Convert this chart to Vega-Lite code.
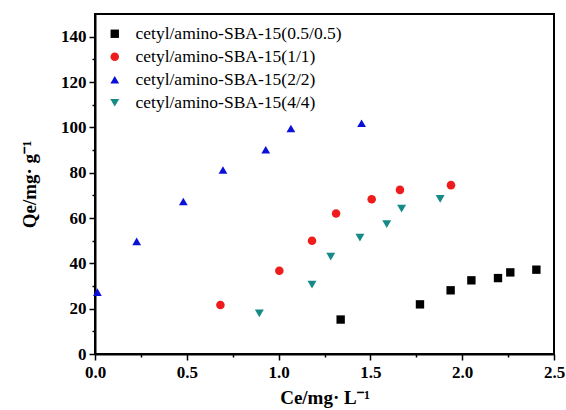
{
  "$schema": "https://vega.github.io/schema/vega-lite/v6.json",
  "width": 459,
  "height": 340,
  "autosize": "none",
  "padding": {"left": 95, "top": 14, "right": 12, "bottom": 56},
  "background": "white",
  "config": {
    "view": {"stroke": "black", "strokeWidth": 2},
    "font": "serif"
  },
  "data": {
    "values": [
      {"series": "cetyl/amino-SBA-15(0.5/0.5)", "ce": 1.338, "qe": 15.2},
      {"series": "cetyl/amino-SBA-15(0.5/0.5)", "ce": 1.77, "qe": 21.9},
      {"series": "cetyl/amino-SBA-15(0.5/0.5)", "ce": 1.937, "qe": 28.1},
      {"series": "cetyl/amino-SBA-15(0.5/0.5)", "ce": 2.05, "qe": 32.5},
      {"series": "cetyl/amino-SBA-15(0.5/0.5)", "ce": 2.195, "qe": 33.5},
      {"series": "cetyl/amino-SBA-15(0.5/0.5)", "ce": 2.262, "qe": 36.0},
      {"series": "cetyl/amino-SBA-15(0.5/0.5)", "ce": 2.404, "qe": 37.2},
      {"series": "cetyl/amino-SBA-15(1/1)", "ce": 0.683, "qe": 21.6},
      {"series": "cetyl/amino-SBA-15(1/1)", "ce": 1.004, "qe": 36.7},
      {"series": "cetyl/amino-SBA-15(1/1)", "ce": 1.182, "qe": 50.0},
      {"series": "cetyl/amino-SBA-15(1/1)", "ce": 1.313, "qe": 62.0},
      {"series": "cetyl/amino-SBA-15(1/1)", "ce": 1.507, "qe": 68.3},
      {"series": "cetyl/amino-SBA-15(1/1)", "ce": 1.661, "qe": 72.4},
      {"series": "cetyl/amino-SBA-15(1/1)", "ce": 1.939, "qe": 74.5},
      {"series": "cetyl/amino-SBA-15(2/2)", "ce": 0.013, "qe": 27.3},
      {"series": "cetyl/amino-SBA-15(2/2)", "ce": 0.227, "qe": 49.7},
      {"series": "cetyl/amino-SBA-15(2/2)", "ce": 0.481, "qe": 67.3},
      {"series": "cetyl/amino-SBA-15(2/2)", "ce": 0.697, "qe": 81.2},
      {"series": "cetyl/amino-SBA-15(2/2)", "ce": 0.93, "qe": 90.1},
      {"series": "cetyl/amino-SBA-15(2/2)", "ce": 1.067, "qe": 99.5},
      {"series": "cetyl/amino-SBA-15(2/2)", "ce": 1.452, "qe": 101.8},
      {"series": "cetyl/amino-SBA-15(4/4)", "ce": 0.895, "qe": 17.9},
      {"series": "cetyl/amino-SBA-15(4/4)", "ce": 1.182, "qe": 30.6},
      {"series": "cetyl/amino-SBA-15(4/4)", "ce": 1.284, "qe": 43.0},
      {"series": "cetyl/amino-SBA-15(4/4)", "ce": 1.443, "qe": 51.3},
      {"series": "cetyl/amino-SBA-15(4/4)", "ce": 1.589, "qe": 57.3},
      {"series": "cetyl/amino-SBA-15(4/4)", "ce": 1.67, "qe": 64.1},
      {"series": "cetyl/amino-SBA-15(4/4)", "ce": 1.88, "qe": 68.4}
    ]
  },
  "mark": {"type": "point", "filled": true, "opacity": 1},
  "encoding": {
    "x": {
      "field": "ce", "type": "quantitative",
      "scale": {"domain": [0, 2.5], "nice": false, "zero": false},
      "axis": {
        "title": "Ce/mg·  L⁻¹",
        "titleFont": "serif", "titleFontSize": 19, "titleFontWeight": "bold", "titleColor": "black",
        "titlePadding": 8,
        "values": [0, 0.25, 0.5, 0.75, 1, 1.25, 1.5, 1.75, 2, 2.25, 2.5],
        "labelExpr": "(datum.value * 2) % 1 === 0 ? format(datum.value, '.1f') : ''",
        "labelFont": "serif", "labelFontSize": 17, "labelFontWeight": "bold", "labelColor": "black",
        "labelPadding": 4, "labelFlush": false, "labelOverlap": false,
        "grid": false,
        "domainColor": "black", "domainWidth": 2,
        "tickColor": "black", "tickWidth": 1.5,
        "tickSize": {"condition": {"test": "(datum.value * 2) % 1 === 0", "value": 6}, "value": 3}
      }
    },
    "y": {
      "field": "qe", "type": "quantitative",
      "scale": {"domain": [0, 150], "nice": false},
      "axis": {
        "title": "Qe/mg·  g⁻¹",
        "titleFont": "serif", "titleFontSize": 19, "titleFontWeight": "bold", "titleColor": "black",
        "titlePadding": 21,
        "values": [0, 10, 20, 30, 40, 50, 60, 70, 80, 90, 100, 110, 120, 130, 140],
        "labelExpr": "datum.value % 20 === 0 ? datum.label : ''",
        "labelFont": "serif", "labelFontSize": 17, "labelFontWeight": "bold", "labelColor": "black",
        "labelPadding": 3, "labelOverlap": false,
        "grid": false,
        "domainColor": "black", "domainWidth": 2,
        "tickColor": "black", "tickWidth": 1.5,
        "tickSize": {"condition": {"test": "datum.value % 20 === 0", "value": 6}, "value": 3}
      }
    },
    "color": {
      "field": "series", "type": "nominal",
      "scale": {
        "domain": ["cetyl/amino-SBA-15(0.5/0.5)", "cetyl/amino-SBA-15(1/1)", "cetyl/amino-SBA-15(2/2)", "cetyl/amino-SBA-15(4/4)"],
        "range": ["#000000", "#ee1c1c", "#0a10d8", "#168a86"]
      },
      "legend": {
        "orient": "none", "legendX": 11, "legendY": 11,
        "title": null,
        "labelFont": "serif", "labelFontSize": 17.5, "labelColor": "black", "labelLimit": 0,
        "labelOffset": 12, "rowPadding": 4, "padding": 0,
        "symbolSize": 50, "symbolStrokeWidth": 0
      }
    },
    "shape": {
      "field": "series", "type": "nominal",
      "scale": {
        "domain": ["cetyl/amino-SBA-15(0.5/0.5)", "cetyl/amino-SBA-15(1/1)", "cetyl/amino-SBA-15(2/2)", "cetyl/amino-SBA-15(4/4)"],
        "range": ["square", "circle", "triangle-up", "triangle-down"]
      },
      "legend": null
    },
    "size": {
      "field": "series", "type": "nominal",
      "scale": {
        "domain": ["cetyl/amino-SBA-15(0.5/0.5)", "cetyl/amino-SBA-15(1/1)", "cetyl/amino-SBA-15(2/2)", "cetyl/amino-SBA-15(4/4)"],
        "range": [70, 80, 100, 100]
      },
      "legend": null
    }
  }
}
